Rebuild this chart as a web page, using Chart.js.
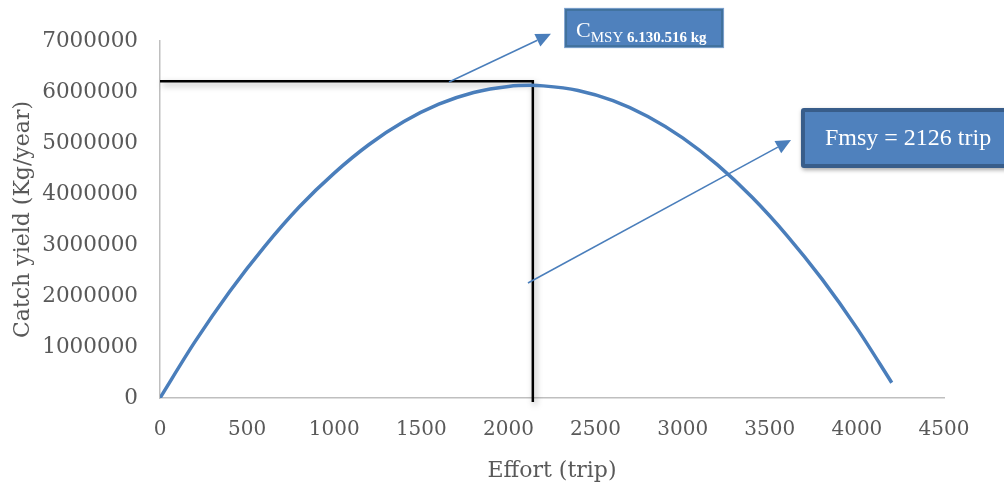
<!DOCTYPE html>
<html>
<head>
<meta charset="utf-8">
<script src="https://cdn.jsdelivr.net/npm/chart.js@4"></script>
<style>
  html, body { margin: 0; padding: 0; background: #fff; }
  #wrap { width: 1004px; height: 488px; }
</style>
</head>
<body>
<div id="wrap"><canvas id="msyChart" width="1004" height="488"></canvas></div>
<script>
// ---- data ----
const effort = [0, 200, 400, 600, 800, 1000, 1200, 1400, 1600, 1800, 2000, 2126,
  2200, 2400, 2600, 2800, 3000, 3200, 3400, 3600, 3800, 4000, 4200];
const catchYield = [0, 1100000, 2090000, 2970000, 3750000, 4410000, 4970000, 5420000,
  5760000, 5990000, 6110000, 6130000, 6120000, 6030000, 5830000, 5520000, 5100000,
  4570000, 3930000, 3180000, 2330000, 1370000, 300000];
const xTicks = [0, 500, 1000, 1500, 2000, 2500, 3000, 3500, 4000, 4500];
const yTicks = [0, 1000000, 2000000, 3000000, 4000000, 5000000, 6000000, 7000000];

// guide lines to the MSY point
const guideX = [0, 2140, 2140];
const guideY = [6210000, 6210000, -80000];

// arrows (tail -> tip) and label boxes, in data units
const arrows = [
  { from: [1659, 6196000], to: [2244, 7140000] },
  { from: [2112, 2255000], to: [3622, 5060000] },
];
const boxes = [
  { x0: 2325, y0: 7630000, x1: 3232, y1: 6880000, kind: "cmsy" },
  { x0: 3679, y0: 5686000, x1: 4900, y1: 4510000, kind: "fmsy" },
];

const blue = "#4A7EBB";

// ---- plugins ----
const shadowPlugin = {
  id: "guideShadow",
  beforeDatasetDraw(chart, args) {
    if (args.index !== 1) return;
    const ctx = chart.ctx;
    ctx.save();
    ctx.shadowColor = "rgba(0,0,0,0.35)";
    ctx.shadowBlur = 6;
    ctx.shadowOffsetX = 2;
    ctx.shadowOffsetY = 3;
  },
  afterDatasetDraw(chart, args) {
    if (args.index !== 1) return;
    chart.ctx.restore();
  },
};

const notesPlugin = {
  id: "notes",
  afterDraw(chart) {
    const { ctx, scales: { x, y } } = chart;
    ctx.save();

    // arrows
    arrows.forEach((a) => {
      const x0 = x.getPixelForValue(a.from[0]), y0 = y.getPixelForValue(a.from[1]);
      const x1 = x.getPixelForValue(a.to[0]), y1 = y.getPixelForValue(a.to[1]);
      const ang = Math.atan2(y1 - y0, x1 - x0);
      const len = 15, half = 7;
      const bx = x1 - len * Math.cos(ang), by = y1 - len * Math.sin(ang);
      ctx.strokeStyle = blue;
      ctx.fillStyle = blue;
      ctx.lineWidth = 1.5;
      ctx.beginPath();
      ctx.moveTo(x0, y0);
      ctx.lineTo(bx, by);
      ctx.stroke();
      ctx.beginPath();
      ctx.moveTo(x1, y1);
      ctx.lineTo(bx + half * Math.sin(ang), by - half * Math.cos(ang));
      ctx.lineTo(bx - half * Math.sin(ang), by + half * Math.cos(ang));
      ctx.closePath();
      ctx.fill();
    });

    // boxes
    boxes.forEach((b) => {
      const l = x.getPixelForValue(b.x0), t = y.getPixelForValue(b.y0);
      const r = x.getPixelForValue(b.x1), btm = y.getPixelForValue(b.y1);
      const w = r - l, h = btm - t;
      if (b.kind === "fmsy") {
        ctx.save();
        ctx.shadowColor = "rgba(0,0,0,0.35)";
        ctx.shadowBlur = 4;
        ctx.shadowOffsetX = 1;
        ctx.shadowOffsetY = 2;
        ctx.fillStyle = "#385D8A";
        ctx.beginPath();
        ctx.roundRect(l, t, w, h, 3);
        ctx.fill();
        ctx.restore();
        ctx.fillStyle = "#4F81BD";
        ctx.fillRect(l + 4, t + 4, w - 8, h - 8);
        ctx.fillStyle = "#fff";
        ctx.font = "24px 'Liberation Serif'";
        ctx.textBaseline = "alphabetic";
        ctx.textAlign = "left";
        ctx.fillText("Fmsy = 2126 trip", l + 24, t + 37);
      } else {
        ctx.fillStyle = "#7FA3CF";
        ctx.fillRect(l - 1, t - 1, w + 2, h + 2);
        ctx.fillStyle = "#41719C";
        ctx.fillRect(l, t, w, h);
        ctx.fillStyle = "#4F81BD";
        ctx.fillRect(l + 2, t + 2, w - 4, h - 4);
        ctx.fillStyle = "#fff";
        ctx.textAlign = "left";
        ctx.textBaseline = "alphabetic";
        let cx = l + 11;
        ctx.font = "22px 'Liberation Serif'";
        ctx.fillText("C", cx, t + 28);
        cx += ctx.measureText("C").width;
        ctx.font = "15px 'Liberation Serif'";
        ctx.fillText("MSY", cx, t + 33);
        cx += ctx.measureText("MSY ").width;
        ctx.font = "bold 15px 'Liberation Serif'";
        ctx.fillText("6.130.516 kg", cx, t + 33);
      }
    });
    ctx.restore();
  },
};

// ---- chart ----
const ctx = document.getElementById("msyChart");
new Chart(ctx, {
  type: "line",
  data: {
    datasets: [
      {
        label: "Catch",
        data: effort.map((e, i) => ({ x: e, y: catchYield[i] })),
        borderColor: blue,
        borderWidth: 3.5,
        pointRadius: 0,
        tension: 0.4,
        cubicInterpolationMode: "monotone",
        fill: false,
      },
      {
        label: "MSY guide",
        data: guideX.map((gx, i) => ({ x: gx, y: guideY[i] })),
        borderColor: "#000",
        borderWidth: 2.5,
        pointRadius: 0,
        tension: 0,
        clip: false,
        fill: false,
      },
    ],
  },
  options: {
    responsive: false,
    animation: false,
    devicePixelRatio: 1,
    layout: { padding: { top: 41, right: 60, left: 0, bottom: 0 } },
    plugins: {
      legend: { display: false },
      tooltip: { enabled: false },
    },
    scales: {
      x: {
        type: "linear",
        min: 0,
        max: 4500,
        afterFit: (s) => { s.height = 90; },
        afterBuildTicks: (s) => { s.ticks = xTicks.map((v) => ({ value: v })); },
        grid: { display: false, drawTicks: false },
        border: { display: true, color: "#BFBFBF", width: 1.5 },
        ticks: {
          font: { family: "DejaVu Serif", size: 20 },
          color: "#595959",
          padding: 20,
          maxRotation: 0,
          callback: (v) => String(v),
        },
        title: {
          display: true,
          text: "Effort (trip)",
          font: { family: "DejaVu Serif", size: 22 },
          color: "#595959",
          padding: { top: 0, bottom: 4 },
        },
      },
      y: {
        min: 0,
        max: 7000000,
        afterFit: (s) => { s.width = 160; },
        afterBuildTicks: (s) => { s.ticks = yTicks.map((v) => ({ value: v })); },
        grid: { display: false, drawTicks: false },
        border: { display: true, color: "#BFBFBF", width: 1.5 },
        ticks: {
          font: { family: "DejaVu Serif", size: 21.5 },
          color: "#595959",
          padding: 22,
          callback: (v) => String(v),
        },
        title: {
          display: true,
          text: "Catch yield (Kg/year)",
          font: { family: "DejaVu Serif", size: 22 },
          color: "#595959",
          padding: { top: 10, bottom: 0 },
        },
      },
    },
  },
  plugins: [shadowPlugin, notesPlugin],
});
</script>
</body>
</html>
